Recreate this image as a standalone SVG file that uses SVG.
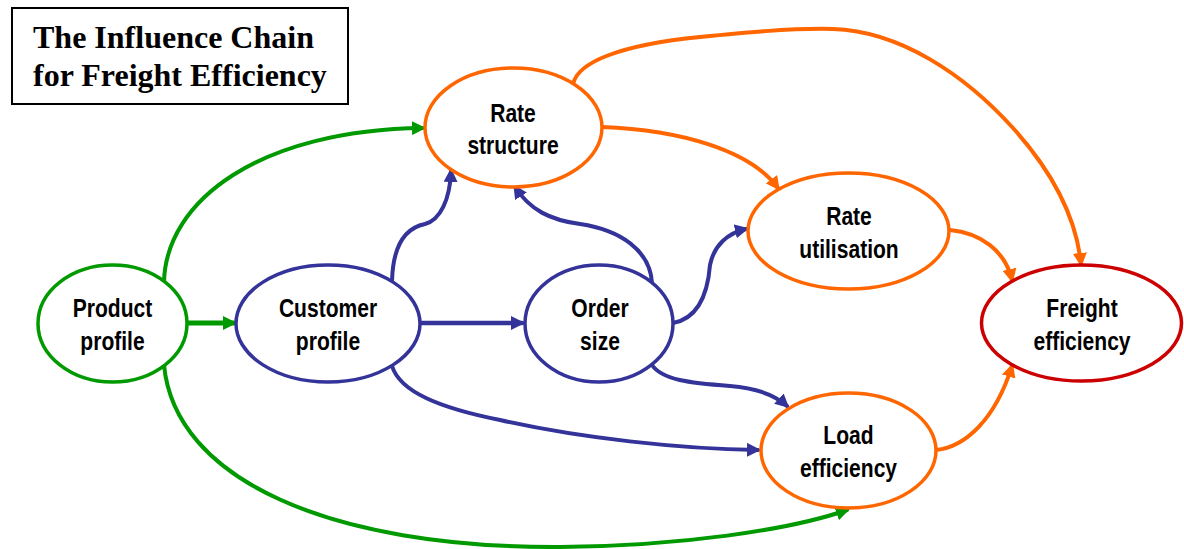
<svg xmlns="http://www.w3.org/2000/svg" width="1184" height="549" viewBox="0 0 1184 549">
<style>
.title{font-family:"Liberation Serif","Times New Roman",serif;font-weight:bold;font-size:32px;fill:#000}
.lbl{font-family:"Liberation Sans",Arial,sans-serif;font-weight:bold;font-size:26px;fill:#000;text-anchor:middle}
.node{fill:#fff;stroke-width:3.5}
.g{stroke:#009900}
.b{stroke:#333399}
.o{stroke:#FF6600}
.r{stroke:#CC0000}
.c{fill:none;stroke-width:4;stroke-linecap:round}
</style>
<defs>
<marker id="ag" markerUnits="userSpaceOnUse" markerWidth="14" markerHeight="14" refX="11" refY="7" orient="auto"><path d="M0,0 L14,7 L0,14 z" fill="#009900"/></marker>
<marker id="ab" markerUnits="userSpaceOnUse" markerWidth="14" markerHeight="14" refX="11" refY="7" orient="auto"><path d="M0,0 L14,7 L0,14 z" fill="#333399"/></marker>
<marker id="ao" markerUnits="userSpaceOnUse" markerWidth="14" markerHeight="14" refX="11" refY="7" orient="auto"><path d="M0,0 L14,7 L0,14 z" fill="#FF6600"/></marker>
</defs>
<rect x="0" y="0" width="1184" height="549" fill="#fff"/>
<g id="title">
<rect x="12" y="8" width="336" height="96" fill="#fff" stroke="#000" stroke-width="2"/>
<text class="title" x="33" y="48">The Influence Chain</text>
<text class="title" x="33" y="86">for Freight Efficiency</text>
</g>
<g id="connectors">
<path class="c g" d="M164,282 C166,200 260,130 423,128" marker-end="url(#ag)"/>
<path class="c g" d="M164,365 C175,480 330,548 560,547 C680,546 790,530 847,510" marker-end="url(#ag)"/>
<path class="c g" style="stroke-width:5" d="M187,323 L234,323" marker-end="url(#ag)"/>
<path class="c b" style="stroke-width:4.5" d="M420,323 L522,323" marker-end="url(#ab)"/>
<path class="c b" d="M392,281 C393,245 405,228 425,224 C440,220 450,200 451,171" marker-end="url(#ab)"/>
<path class="c b" d="M652,283 C650,250 620,230 580,224 C550,220 530,210 515,187" marker-end="url(#ab)"/>
<path class="c b" d="M673,323 C700,318 708,290 710,265 C714,245 728,233 746,229" marker-end="url(#ab)"/>
<path class="c b" d="M652,365 C662,380 690,383 730,386 C755,388 775,395 787,406" marker-end="url(#ab)"/>
<path class="c b" d="M392,366 C400,392 440,408 500,420 C580,438 680,449 758,450" marker-end="url(#ab)"/>
<path class="c o" d="M602,127 C680,130 750,150 778,188" marker-end="url(#ao)"/>
<path class="c o" d="M573,84 C578,62 620,45 700,37 C740,33 790,28 833,29 C900,31 965,75 1013,128 C1040,158 1075,205 1081,264" marker-end="url(#ao)"/>
<path class="c o" d="M950,230 C980,233 1005,250 1012,280" marker-end="url(#ao)"/>
<path class="c o" d="M936,450 C965,447 995,420 1012,366" marker-end="url(#ao)"/>
</g>
<g id="product-profile">
<ellipse class="node g" cx="112.5" cy="323.5" rx="74.5" ry="58.5"/>
<text class="lbl" transform="translate(112.5 0) scale(0.81 1)"><tspan x="0" y="317">Product</tspan><tspan x="0" y="350">profile</tspan></text>
</g>
<g id="customer-profile">
<ellipse class="node b" cx="328" cy="323.5" rx="92" ry="58.5"/>
<text class="lbl" transform="translate(328 0) scale(0.81 1)"><tspan x="0" y="317">Customer</tspan><tspan x="0" y="350">profile</tspan></text>
</g>
<g id="order-size">
<ellipse class="node b" cx="599" cy="323.5" rx="74" ry="58.5"/>
<text class="lbl" transform="translate(600 0) scale(0.81 1)"><tspan x="0" y="317">Order</tspan><tspan x="0" y="350">size</tspan></text>
</g>
<g id="rate-structure">
<ellipse class="node o" cx="513.5" cy="127.5" rx="88.5" ry="59.5"/>
<text class="lbl" transform="translate(513 0) scale(0.81 1)"><tspan x="0" y="122">Rate</tspan><tspan x="0" y="154">structure</tspan></text>
</g>
<g id="rate-utilisation">
<ellipse class="node o" cx="848.5" cy="231" rx="100.5" ry="58"/>
<text class="lbl" transform="translate(849 0) scale(0.81 1)"><tspan x="0" y="225">Rate</tspan><tspan x="0" y="258">utilisation</tspan></text>
</g>
<g id="freight-efficiency">
<ellipse class="node r" cx="1081.5" cy="323" rx="100" ry="58"/>
<text class="lbl" transform="translate(1082 0) scale(0.81 1)"><tspan x="0" y="317">Freight</tspan><tspan x="0" y="350">efficiency</tspan></text>
</g>
<g id="load-efficiency">
<ellipse class="node o" cx="848.5" cy="450.5" rx="87.5" ry="57.5"/>
<text class="lbl" transform="translate(848.5 0) scale(0.81 1)"><tspan x="0" y="444">Load</tspan><tspan x="0" y="477">efficiency</tspan></text>
</g>
</svg>
